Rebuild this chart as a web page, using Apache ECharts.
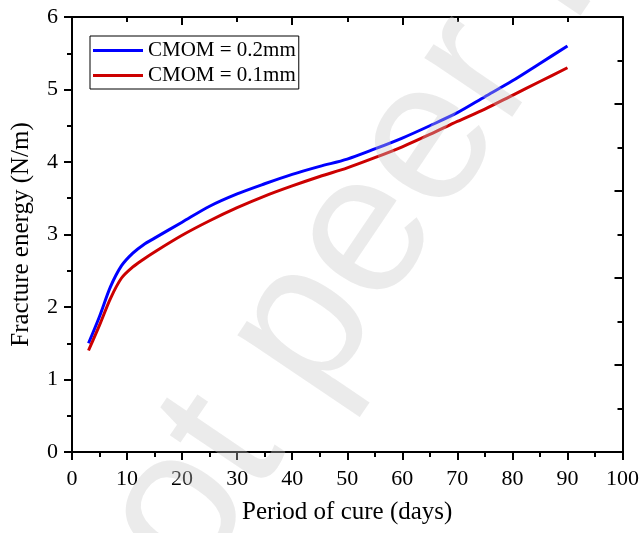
<!DOCTYPE html>
<html>
<head>
<meta charset="utf-8">
<script src="https://cdn.jsdelivr.net/npm/echarts@6/dist/echarts.min.js"></script>
<style>
html,body{margin:0;padding:0;background:#fff;}
#chart{width:642px;height:533px;}
</style>
</head>
<body>
<div id="chart"></div>
<script>
// ---- data ----
var days = [3, 5, 7, 9, 11, 13, 15, 20, 25, 30, 35, 40, 45, 50, 55, 60, 65, 70, 75, 80, 85, 90];
var energy02 = [1.50, 1.87, 2.28, 2.57, 2.74, 2.86, 2.95, 3.17, 3.39, 3.56, 3.70, 3.83, 3.94, 4.04, 4.18, 4.33, 4.50, 4.68, 4.90, 5.12, 5.36, 5.60];
var energy01 = [1.40, 1.75, 2.12, 2.40, 2.55, 2.66, 2.76, 2.99, 3.19, 3.37, 3.53, 3.67, 3.80, 3.92, 4.06, 4.21, 4.38, 4.56, 4.73, 4.92, 5.11, 5.30];
var seriesNames = ['CMOM = 0.2mm', 'CMOM = 0.1mm'];
var xTitle = 'Period of cure (days)';
var yTitle = 'Fracture energy (N/m)';
var watermarkA = 'Preprint not ';
var watermarkB = 'peer reviewed';

function pairs(xs, ys) { return xs.map(function (x, i) { return [x, ys[i]]; }); }

var FONT = '"Liberation Serif", "Times New Roman", serif';
var WM_FONT = '"Liberation Sans", Arial, sans-serif';
var chart = echarts.init(document.getElementById('chart'), null, {renderer: 'canvas'});

var axisLineStyle = {show: true, onZero: false, lineStyle: {color: '#000', width: 2}};
var wmAngle = 56 * Math.PI / 180;
var wmX = 355, wmY = 430;

var option = {
  backgroundColor: '#fff',
  animation: false,
  grid: {left: 72, right: 19, top: 17, bottom: 81, containLabel: false},
  legend: {
    orient: 'vertical',
    left: 90, top: 36,
    padding: [4, 3, 3, 3],
    itemGap: 4,
    itemWidth: 50, itemHeight: 3,
    icon: 'rect',
    borderColor: '#000', borderWidth: 1,
    textStyle: {fontFamily: FONT, fontSize: 21, color: '#000'},
    data: seriesNames
  },
  xAxis: [{
    type: 'value', position: 'bottom', min: 0, max: 100, interval: 10,
    axisLine: axisLineStyle,
    axisTick: {show: true, inside: false, length: 8, lineStyle: {width: 2, color: '#000'}},
    minorTick: {show: true, splitNumber: 2, length: 5, lineStyle: {width: 2, color: '#000'}},
    splitLine: {show: false},
    axisLabel: {fontFamily: FONT, fontSize: 22, color: '#000', margin: 16},
    name: xTitle, nameLocation: 'middle', nameGap: 48,
    nameTextStyle: {fontFamily: FONT, fontSize: 25, color: '#000'}
  }, {
    type: 'value', position: 'top', min: 0, max: 100, interval: 20,
    axisLine: axisLineStyle,
    axisTick: {show: true, inside: true, length: 8, lineStyle: {width: 2, color: '#000'}},
    minorTick: {show: true, splitNumber: 2, length: 5, lineStyle: {width: 2, color: '#000'}},
    splitLine: {show: false},
    axisLabel: {show: false}
  }],
  yAxis: [{
    type: 'value', position: 'left', min: 0, max: 6, interval: 1,
    axisLine: axisLineStyle,
    axisTick: {show: true, inside: false, length: 8, lineStyle: {width: 2, color: '#000'}},
    minorTick: {show: true, splitNumber: 2, length: 5, lineStyle: {width: 2, color: '#000'}},
    splitLine: {show: false},
    axisLabel: {fontFamily: FONT, fontSize: 22, color: '#000', margin: 14},
    name: yTitle, nameLocation: 'middle', nameGap: 38,
    nameTextStyle: {fontFamily: FONT, fontSize: 25, color: '#000'}
  }, {
    type: 'value', position: 'right', min: 0, max: 6, interval: 1.2,
    axisLine: axisLineStyle,
    axisTick: {show: true, inside: true, length: 8, lineStyle: {width: 2, color: '#000'}},
    minorTick: {show: true, splitNumber: 2, length: 5, lineStyle: {width: 2, color: '#000'}},
    splitLine: {show: false},
    axisLabel: {show: false}
  }],
  series: [{
    name: seriesNames[0], type: 'line', xAxisIndex: 0, yAxisIndex: 0,
    data: pairs(days, energy02), smooth: 0.3, showSymbol: false, symbol: 'none',
    lineStyle: {color: '#0000ff', width: 3}, itemStyle: {color: '#0000ff'}
  }, {
    name: seriesNames[1], type: 'line', xAxisIndex: 0, yAxisIndex: 0,
    data: pairs(days, energy01), smooth: 0.3, showSymbol: false, symbol: 'none',
    lineStyle: {color: '#cc0000', width: 3}, itemStyle: {color: '#cc0000'}
  }],
  graphic: [{
    type: 'text', x: wmX, y: wmY, rotation: wmAngle, z: 100, silent: true,
    style: {text: watermarkA, fontFamily: WM_FONT, fontSize: 200,
            fill: 'rgba(200,200,200,0.36)', textAlign: 'right', textVerticalAlign: 'bottom'}
  }, {
    type: 'text', x: wmX, y: wmY, rotation: wmAngle, z: 100, silent: true,
    style: {text: watermarkB, fontFamily: WM_FONT, fontSize: 200,
            fill: 'rgba(200,200,200,0.36)', textAlign: 'left', textVerticalAlign: 'bottom'}
  }]
};
chart.setOption(option);
</script>
</body>
</html>
